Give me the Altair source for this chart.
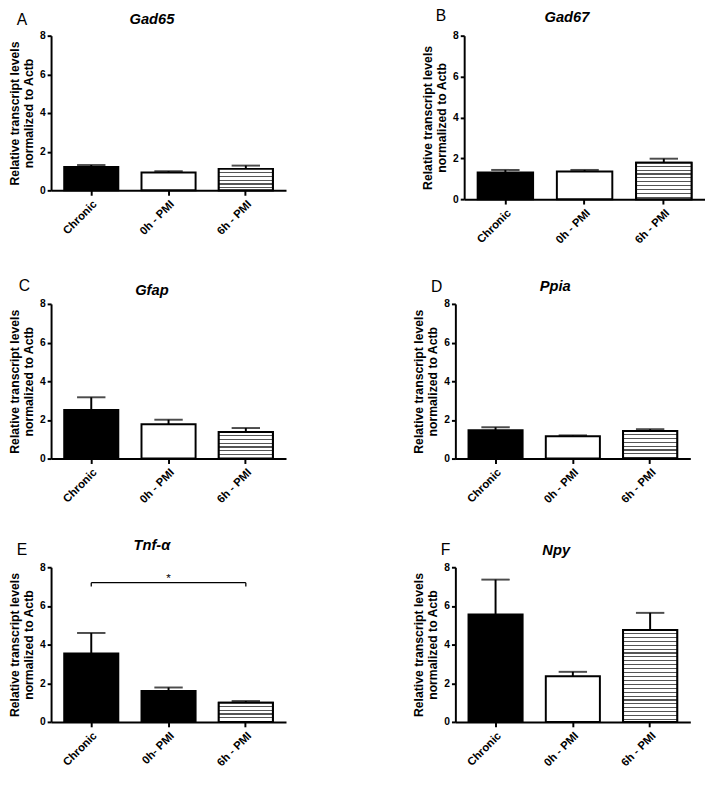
import altair as alt
import pandas as pd

# ---------------- data ----------------
groups = ["Chronic", "0h - PMI", "6h - PMI"]
groups_e = ["Chronic", "0h- PMI", "6h - PMI"]

gad65_mean = [1.21, 0.92, 1.11]
gad65_sem = [0.10, 0.07, 0.17]
gad67_mean = [1.31, 1.35, 1.78]
gad67_sem = [0.12, 0.08, 0.20]
gfap_mean = [2.52, 1.78, 1.38]
gfap_sem = [0.65, 0.23, 0.20]
ppia_mean = [1.46, 1.16, 1.43]
ppia_sem = [0.16, 0.04, 0.09]
tnf_mean = [3.54, 1.60, 0.99]
tnf_sem = [1.06, 0.18, 0.09]
npy_mean = [5.56, 2.36, 4.75]
npy_sem = [1.80, 0.23, 0.89]

y_ticks = [0, 2, 4, 6, 8]
y_title = ["Relative transcript levels", "normalized to Actb"]
sig_pair = ["Chronic", "6h - PMI"]
sig_mid = "0h- PMI"
sig_y = 7.2
sig_low = 7.0
sig_star_y = 7.45
sig_text = "*"

FONT = "Liberation Sans"


def stripes(bar_px, period=4.0, line=1.1, color="#555555"):
    p = period / bar_px
    l = line / bar_px
    stops = []
    i = 0
    while i * p < 1:
        a = i * p
        b = min(1.0, a + p - l)
        c = min(1.0, (i + 1) * p)
        stops += [
            alt.GradientStop(offset=a, color="white"),
            alt.GradientStop(offset=b, color="white"),
            alt.GradientStop(offset=b, color=color),
            alt.GradientStop(offset=c, color=color),
        ]
        i += 1
    return alt.LinearGradient(gradient="linear", stops=stops, x1=0, y1=0, x2=0, y2=1)


def panel(letter, gene, cats, means, sems, w, h, gx, gy, lx, ly, sig=False):
    df = pd.DataFrame({"group": cats, "mean": means, "sem": sems})
    base = alt.Chart(df).transform_calculate(upper="datum.mean + datum.sem")
    xscale = alt.Scale(domain=cats, paddingInner=0.3, paddingOuter=0.17)
    xaxis = alt.Axis(
        labelAngle=-45,
        labelAlign="right",
        labelBaseline="top",
        labelPadding=3,
        tickSize=5,
    )
    yscale = alt.Scale(domain=[0, 8], nice=False)
    yaxis = alt.Axis(
        values=y_ticks,
        tickSize=4,
        labelPadding=2,
        titlePadding=4,
        titleLineHeight=14.5,
        labelOverlap=False,
    )

    def X(field):
        return alt.X(field, scale=xscale, axis=xaxis, title=None)

    def Y(field):
        return alt.Y(field, scale=yscale, axis=yaxis, title=y_title)

    bars = base.mark_bar(stroke="black", strokeWidth=2).encode(
        x=X("group:N"),
        y=Y("mean:Q"),
        fill=alt.Fill(
            "group:N",
            scale=alt.Scale(domain=cats, range=["black", "white", "white"]),
            legend=None,
        ),
    )
    bar_px = means[2] * h / 8.0
    striped = (
        base.transform_filter(alt.datum.group == cats[2])
        .mark_bar(fill=stripes(bar_px), stroke="black", strokeWidth=2)
        .encode(x=X("group:N"), y=Y("mean:Q"))
    )
    err = base.mark_rule(color="black", strokeWidth=2).encode(
        x=X("group:N"), y=Y("mean:Q"), y2="upper:Q"
    )
    cap = base.mark_tick(color="black", thickness=2, size=29).encode(
        x=X("group:N"), y=Y("upper:Q")
    )
    gt = alt.Chart(pd.DataFrame({"t": [gene]})).mark_text(
        align="center",
        baseline="top",
        font=FONT,
        fontSize=15,
        fontWeight="bold",
        fontStyle="italic",
        color="black",
    ).encode(x=alt.value(gx), y=alt.value(gy), text="t:N")
    lt = alt.Chart(pd.DataFrame({"t": [letter]})).mark_text(
        align="left", baseline="top", font=FONT, fontSize=16, color="black"
    ).encode(x=alt.value(lx), y=alt.value(ly), text="t:N")
    layers = [bars, striped, err, cap, gt, lt]
    if sig:
        bdf = pd.DataFrame({"group": [sig_pair[0]], "group2": [sig_pair[1]], "y": [sig_y]})
        hline = alt.Chart(bdf).mark_rule(color="black", strokeWidth=1.3).encode(
            x=X("group:N"), x2="group2:N", y=Y("y:Q")
        )
        edf = pd.DataFrame({"group": sig_pair, "y0": [sig_low, sig_low], "y1": [sig_y, sig_y]})
        ends = alt.Chart(edf).mark_rule(color="black", strokeWidth=1.3).encode(
            x=X("group:N"), y=Y("y0:Q"), y2="y1:Q"
        )
        sdf = pd.DataFrame({"group": [sig_mid], "y": [sig_star_y], "t": [sig_text]})
        star = alt.Chart(sdf).mark_text(
            font=FONT, fontSize=12, color="black", baseline="middle"
        ).encode(x=X("group:N"), y=Y("y:Q"), text="t:N")
        layers += [hline, ends, star]
    return alt.layer(*layers).properties(width=w, height=h)


pA = panel("A", "Gad65", groups, gad65_mean, gad65_sem, 240, 158, 103, -24, -35, -24)
pB = panel("B", "Gad67", groups, gad67_mean, gad67_sem, 246, 167, 105, -26, -29, -28)
pC = panel("C", "Gfap", groups, gfap_mean, gfap_sem, 240, 158, 103, -21, -33, -26)
pD = panel("D", "Ppia", groups, ppia_mean, ppia_sem, 240, 158, 102, -25, -25, -25)
pE = panel("E", "Tnf-α", groups_e, tnf_mean, tnf_sem, 240, 158, 103, -30, -35, -25, sig=True)
pF = panel("F", "Npy", groups, npy_mean, npy_sem, 240, 158, 103, -25, -15, -26)

chart = (
    alt.vconcat(
        alt.hconcat(pA, pB, spacing=138),
        alt.hconcat(pC, pD, spacing=129),
        alt.hconcat(pE, pF, spacing=129),
        spacing=33,
    )
    .properties(padding={"top": -8, "left": 0, "right": 0, "bottom": 0})
    .configure_view(stroke=None)
    .configure_axis(
        domainColor="black",
        domainWidth=2,
        tickColor="black",
        tickWidth=2,
        labelColor="black",
        labelFont=FONT,
        labelFontWeight="bold",
        labelFontSize=11.5,
        titleFont=FONT,
        titleFontWeight="bold",
        titleFontSize=12.5,
        titleColor="black",
        grid=False,
    )
    .configure_axisY(labelFontSize=10.5)
)

chart.save("out.html", embed_options={"renderer": "svg", "actions": False})
